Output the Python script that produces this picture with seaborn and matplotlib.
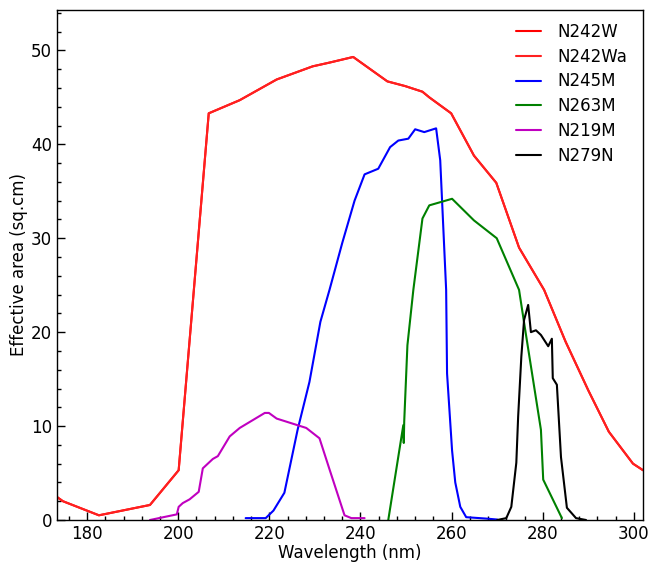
import matplotlib
matplotlib.use("Agg")
import matplotlib.pyplot as plt
from matplotlib.ticker import MultipleLocator
import seaborn as sns
import pandas as pd

# ---- data ----
n242w_x = [173.4, 174.7, 182.6, 193.8, 200.1, 206.7, 213.5, 221.6, 229.5, 233.2, 238.4,
           245.9, 249.8, 253.6, 255.1, 259.9, 264.9, 269.8, 274.8, 280.3, 285.0, 290.0,
           294.5, 299.8, 302.0]
n242w_y = [2.45, 2.0, 0.5, 1.6, 5.3, 43.3, 44.7, 46.9, 48.3, 48.7, 49.3,
           46.7, 46.2, 45.6, 45.0, 43.3, 38.8, 35.9, 29.0, 24.5, 19.0, 13.8,
           9.4, 6.0, 5.3]
n242wa_x = list(n242w_x)
n242wa_y = list(n242w_y)

n245m_x = [214.8, 219.2, 220.9, 223.3, 226.2, 228.8, 231.2, 233.2, 236.0, 238.7, 240.9,
           243.9, 246.5, 248.3, 250.5, 252.0, 254.0, 256.6, 257.5, 258.8, 259.0, 260.1,
           260.8, 261.9, 263.2, 267.6, 270.0]
n245m_y = [0.2, 0.2, 1.0, 2.9, 9.6, 14.7, 21.1, 24.5, 29.5, 34.0, 36.8,
           37.4, 39.7, 40.4, 40.6, 41.6, 41.3, 41.7, 38.3, 24.5, 15.6, 7.4,
           4.0, 1.4, 0.3, 0.15, 0.05]

n263m_x = [246.1, 249.4, 249.5, 249.6, 250.3, 251.6, 253.6, 255.1, 260.1, 264.9, 269.9,
           274.8, 276.1, 279.6, 280.1, 284.2]
n263m_y = [0.0, 10.1, 8.2, 10.5, 18.6, 24.5, 32.1, 33.5, 34.2, 31.9, 30.0,
           24.5, 20.4, 9.6, 4.3, 0.2]

n219m_x = [193.8, 199.7, 200.1, 201.0, 202.5, 204.5, 205.4, 207.6, 208.7, 211.3, 213.5,
           219.0, 219.9, 221.6, 228.1, 231.0, 233.2, 236.5, 238.0, 240.9]
n219m_y = [0.0, 0.6, 1.4, 1.8, 2.2, 3.0, 5.5, 6.5, 6.8, 8.9, 9.8,
           11.4, 11.4, 10.8, 9.8, 8.7, 5.4, 0.5, 0.2, 0.2]

n279n_x = [270.0, 272.0, 273.1, 274.2, 274.6, 275.3, 275.9, 276.8, 277.4, 278.5, 279.6,
           281.2, 282.0, 282.2, 283.1, 284.0, 285.3, 287.3, 289.5]
n279n_y = [0.0, 0.2, 1.4, 6.1, 11.0, 17.4, 21.3, 22.9, 20.0, 20.2, 19.7,
           18.5, 19.3, 15.1, 14.4, 6.7, 1.3, 0.2, 0.0]

series_names = ["N242W", "N242Wa", "N245M", "N263M", "N219M", "N279N"]
series_x = [n242w_x, n242wa_x, n245m_x, n263m_x, n219m_x, n279n_x]
series_y = [n242w_y, n242wa_y, n245m_y, n263m_y, n219m_y, n279n_y]
colors = ["#ff0000", "#ff2020", "#0000ff", "#008000", "#c000c0", "#000000"]

sns.set_style("white")
plt.rcParams["font.family"] = ["DejaVu Sans"]
plt.rcParams["text.color"] = "black"
plt.rcParams["axes.labelcolor"] = "black"
plt.rcParams["xtick.color"] = "black"
plt.rcParams["ytick.color"] = "black"

fig = plt.figure(figsize=(6.57, 5.73), dpi=100)
ax = fig.add_axes([57 / 657, 1 - 520 / 573, (643 - 57) / 657, (520 - 10) / 573])

for name, xs, ys, c in zip(series_names, series_x, series_y, colors):
    df = pd.DataFrame({"x": xs, "y": ys})
    sns.lineplot(data=df, x="x", y="y", ax=ax, sort=False, estimator=None,
                 color=c, linewidth=1.5, label=name)

ax.set_xlim(173.4, 302.0)
ax.set_ylim(0, 54.3)
ax.xaxis.set_major_locator(MultipleLocator(20))
ax.xaxis.set_minor_locator(MultipleLocator(4))
ax.yaxis.set_major_locator(MultipleLocator(10))
ax.yaxis.set_minor_locator(MultipleLocator(2))
ax.tick_params(which="both", direction="in", top=False, right=False,
               bottom=True, left=True, labelsize=12, pad=3.5,
               colors="black")
ax.tick_params(which="major", length=6, width=1)
ax.tick_params(which="minor", length=3, width=1)
for s in ax.spines.values():
    s.set_color("black")
    s.set_linewidth(1.0)

ax.set_xlabel("Wavelength (nm)", fontsize=12, labelpad=1, color="black")
ax.set_ylabel("Effective area (sq.cm)", fontsize=12, labelpad=2, color="black")

leg = ax.legend(loc="upper right", frameon=False, fontsize=12,
                handlelength=1.5, handletextpad=1.0, labelspacing=0.41,
                borderaxespad=0, bbox_to_anchor=(0.985, 0.988))
for t in leg.get_texts():
    t.set_color("black")

fig.savefig("out.png", dpi=100)
